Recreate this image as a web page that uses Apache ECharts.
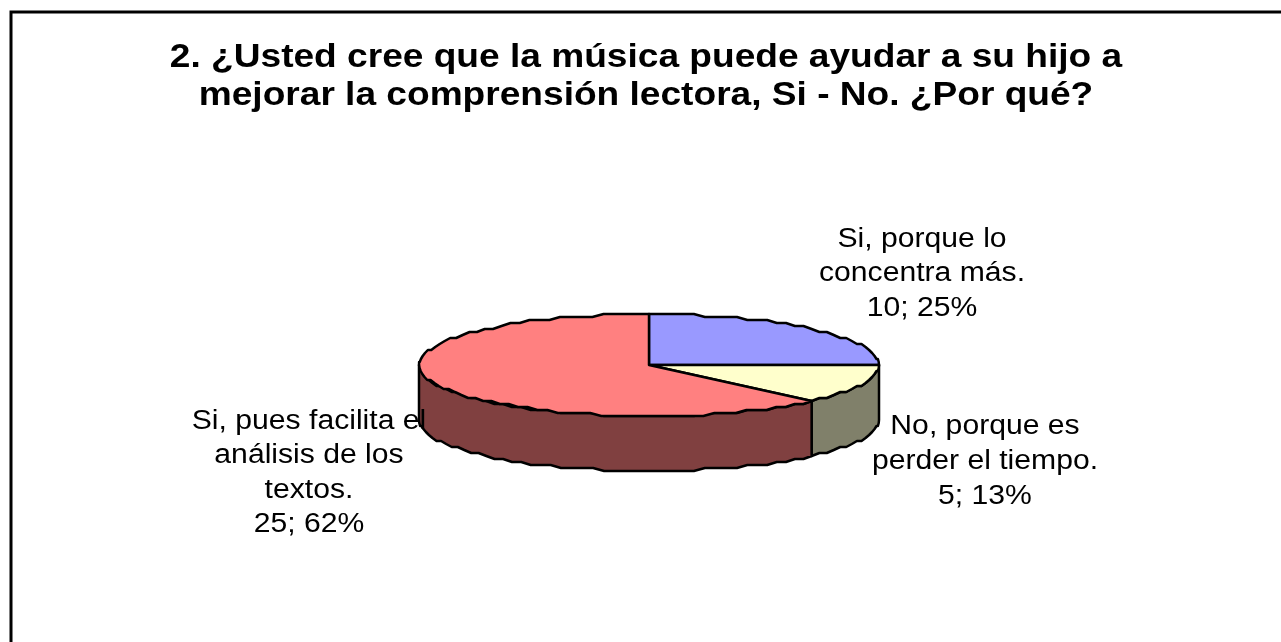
<!DOCTYPE html>
<html><head><meta charset="utf-8">
<style>html,body{margin:0;padding:0;background:#fff}#c{width:1281px;height:642px}</style>
<script src="https://cdn.jsdelivr.net/npm/echarts@6/dist/echarts.min.js"></script>
</head><body><div id="c"></div>
<script>
var categories = ['Si, porque lo\nconcentra más.', 'No, porque es\nperder el tiempo.', 'Si, pues facilita el\nanálisis de los\ntextos.'];
var values = [10, 5, 25];
var percents = ['25%', '13%', '62%'];
var topColors = ['#9999FF', '#FFFFCC', '#FF8080'];
var sideColors = ['#66668A', '#80806A', '#804040'];
var titleLines = '2. ¿Usted cree que la música puede ayudar a su hijo a\nmejorar la comprensión lectora, Si - No. ¿Por qué?';
var labelAnchors = [[922, 274], [985, 461.5], [309, 473]];

var cx = 649, cy = 365, rx = 230, ry = 51, depth = 55, snap = 3;
var total = values.reduce(function (a, b) { return a + b; }, 0);
function pt(t, dy) {
  var off = -ry * Math.cos(t);
  // the reference outline is stair-stepped from low-res resampling
  return [cx + rx * Math.sin(t), cy + Math.round(off / snap) * snap + (dy || 0)];
}
function arc(a, b, dy) {
  var n = Math.max(2, Math.ceil(Math.abs(b - a) / 0.05)), out = [];
  for (var i = 0; i <= n; i++) out.push(pt(a + (b - a) * i / n, dy));
  return out;
}
var slices = [], acc = 0;
values.forEach(function (v, i) {
  var a = acc / total * 2 * Math.PI; acc += v;
  slices.push({ i: i, a: a, b: acc / total * 2 * Math.PI });
});
var stroke = { stroke: '#000', lineWidth: 2.5, lineJoin: 'round' };
function sty(fill) { return Object.assign({ fill: fill }, stroke); }

var chart = echarts.init(document.getElementById('c'), null, { renderer: 'canvas' });
chart.setOption({
  animation: false,
  backgroundColor: '#fff',
  graphic: [
    { type: 'polyline', silent: true, shape: { points: [[11, 642], [11, 12], [1281, 12]] }, style: { stroke: '#000', lineWidth: 3, fill: null } },
    { type: 'text', silent: true, x: 646, y: 77, scaleX: 1.124, style: {
        text: titleLines, align: 'center', verticalAlign: 'middle',
        font: 'bold 33px "Liberation Sans"', lineHeight: 38, fill: '#000' } }
  ],
  series: [{
    type: 'custom',
    coordinateSystem: 'none',
    data: values,
    silent: true,
    renderItem: function (params) {
      var s = slices[params.dataIndex], kids = [];
      var a = Math.max(s.a, Math.PI / 2), b = Math.min(s.b, 1.5 * Math.PI);
      if (b > a) {
        var wall = arc(a, b, 0).concat(arc(b, a, depth));
        kids.push({ type: 'polygon', shape: { points: wall }, style: sty(sideColors[s.i]) });
      }
      var top = [[cx, cy]].concat(arc(s.a, s.b, 0));
      kids.push({ type: 'polygon', shape: { points: top }, style: sty(topColors[s.i]) });
      kids.push({
        type: 'text', x: labelAnchors[s.i][0], y: labelAnchors[s.i][1], scaleX: 1.116, style: {
          text: categories[s.i] + '\n' + values[s.i] + '; ' + percents[s.i],
          align: 'center', verticalAlign: 'middle',
          font: '27px "Liberation Sans"', lineHeight: 34.6, fill: '#000'
        }
      });
      return { type: 'group', children: kids };
    }
  }]
});
</script></body></html>
